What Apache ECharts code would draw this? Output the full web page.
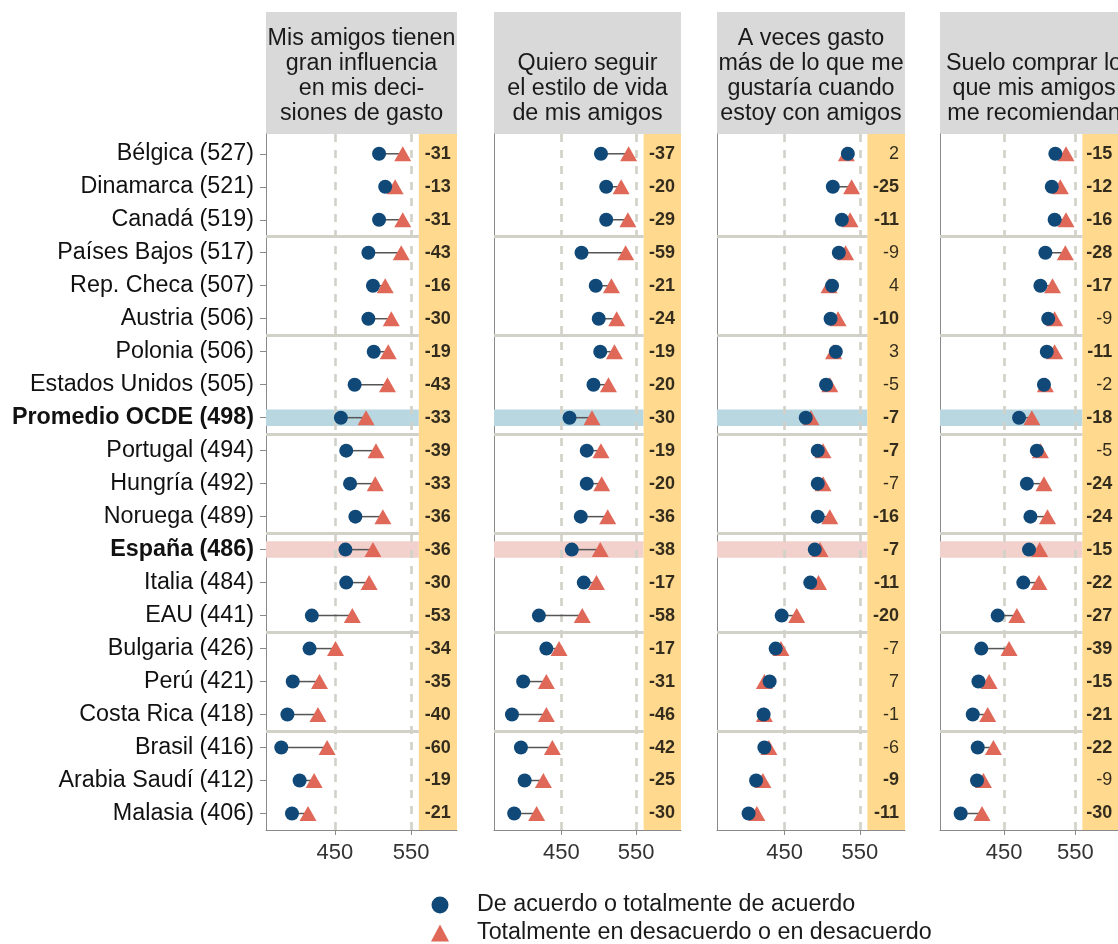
<!DOCTYPE html>
<html><head><meta charset="utf-8">
<script src="https://cdn.jsdelivr.net/npm/echarts@6/dist/echarts.min.js"></script>
<style>html,body{margin:0;padding:0;background:#fff}#c{width:1118px;height:944px}</style>
</head><body><div id="c"></div>
<script>
const countries = ['Bélgica (527)', 'Dinamarca (521)', 'Canadá (519)', 'Países Bajos (517)', 'Rep. Checa (507)', 'Austria (506)', 'Polonia (506)', 'Estados Unidos (505)', 'Promedio OCDE (498)', 'Portugal (494)', 'Hungría (492)', 'Noruega (489)', 'España (486)', 'Italia (484)', 'EAU (441)', 'Bulgaria (426)', 'Perú (421)', 'Costa Rica (418)', 'Brasil (416)', 'Arabia Saudí (412)', 'Malasia (406)'];
const boldCountries = ['Promedio OCDE (498)', 'España (486)'];
const oecdRow = 'Promedio OCDE (498)';
const spainRow = 'España (486)';
const groupBreaks = [3.5, 6.5, 9.5, 12.5, 15.5, 18.5];
const xTicks = [450, 550];
const seriesNames = ['De acuerdo o totalmente de acuerdo', 'Totalmente en desacuerdo o en desacuerdo'];

const titles = [
  'Mis amigos tienen\ngran influencia\nen mis deci-\nsiones de gasto',
  'Quiero seguir\nel estilo de vida\nde mis amigos',
  'A veces gasto\nmás de lo que me\ngustaría cuando\nestoy con amigos',
  'Suelo comprar lo\nque mis amigos\nme recomiendan'
];

const agree1 = [508,516,508,494,500,494,501,476,458,465,470,477,464,465,420,417,395,388,380,404,394];
const disagree1 = [539,529,539,537,516,524,520,519,491,504,503,513,500,495,473,451,430,428,440,423,415];
const diff1 = [-31,-13,-31,-43,-16,-30,-19,-43,-33,-39,-33,-36,-36,-30,-53,-34,-35,-40,-60,-19,-21];
const sig1 = [1,1,1,1,1,1,1,1,1,1,1,1,1,1,1,1,1,1,1,1,1];

const agree2 = [503,510,510,477,496,500,502,493,461,484,484,476,464,480,420,430,399,384,396,401,387];
const disagree2 = [540,530,539,536,517,524,521,513,491,503,504,512,502,497,478,447,430,430,438,426,417];
const diff2 = [-37,-20,-29,-59,-21,-24,-19,-20,-30,-19,-20,-36,-38,-17,-58,-17,-31,-46,-42,-25,-30];
const sig2 = [1,1,1,1,1,1,1,1,1,1,1,1,1,1,1,1,1,1,1,1,1];

const agree3 = [534,514,526,522,513,511,518,505,478,494,494,494,490,484,446,438,430,422,423,412,402];
const disagree3 = [532,539,537,531,509,521,515,510,485,501,501,510,497,495,466,445,423,423,429,421,413];
const diff3 = [2,-25,-11,-9,4,-10,3,-5,-7,-7,-7,-16,-7,-11,-20,-7,7,-1,-6,-9,-11];
const sig3 = [0,1,1,0,0,1,0,0,1,1,0,1,1,1,1,0,0,0,0,1,1];

const agree4 = [522,517,521,508,501,512,510,506,471,496,482,487,485,477,441,418,414,406,413,412,389];
const disagree4 = [537,529,537,536,518,521,521,508,489,501,506,511,500,499,468,457,429,427,435,421,419];
const diff4 = [-15,-12,-16,-28,-17,-9,-11,-2,-18,-5,-24,-24,-15,-22,-27,-39,-15,-21,-22,-9,-30];
const sig4 = [1,1,1,1,1,0,1,0,1,0,1,1,1,1,1,1,1,1,1,0,1];

const panels = [
  {agree: agree1, disagree: disagree1, diff: diff1, sig: sig1},
  {agree: agree2, disagree: disagree2, diff: diff2, sig: sig2},
  {agree: agree3, disagree: disagree3, diff: diff3, sig: sig3},
  {agree: agree4, disagree: disagree4, diff: diff4, sig: sig4}
];

// layout
const lefts = [266, 494, 717, 940];
const widths = [191, 187, 188, 188];
const gridTop = 134, gridHeight = 696;
const xMin = 360, plotMax = 560, xMax = 610, labelX = 602;
const yMin = 0.4, yMax = 21.5;

const FONT = '"Liberation Sans", Arial, Helvetica, sans-serif';
const C_AGREE = '#104978', C_DIS = '#e06859';
const C_GUIDE = '#d1d1c8', C_AXIS = '#8a8a8a';

const rows = countries.map((c, i) => i + 1);

const grids = [], xAxes = [], yAxes = [], series = [], graphics = [];

panels.forEach((p, k) => {
  grids.push({left: lefts[k], top: gridTop, width: widths[k], height: gridHeight, containLabel: false});
  xAxes.push({
    type: 'value', gridIndex: k, min: xMin, max: xMax,
    axisLine: {show: true, lineStyle: {color: C_AXIS, width: 1}},
    axisTick: {show: true, customValues: xTicks, length: 5, lineStyle: {color: C_AXIS}},
    axisLabel: {show: true, customValues: xTicks, fontSize: 22, color: '#333', margin: 12, fontFamily: FONT},
    splitLine: {show: false}
  });
  yAxes.push({
    type: 'value', gridIndex: k, min: yMin, max: yMax, inverse: true,
    axisLine: {show: true, lineStyle: {color: C_AXIS, width: 1}},
    axisTick: {show: k === 0, customValues: rows, length: 6, lineStyle: {color: C_AXIS}},
    axisLabel: {
      show: k === 0, customValues: rows, margin: 12, fontFamily: FONT,
      formatter: v => {
        const name = countries[Math.round(v) - 1] || '';
        return boldCountries.includes(name) ? '{b|' + name + '}' : '{n|' + name + '}';
      },
      rich: {
        b: {fontSize: 23.3, fontWeight: 'bold', color: '#111', fontFamily: FONT},
        n: {fontSize: 23.3, color: '#111', fontFamily: FONT}
      }
    },
    splitLine: {show: false}
  });

  const oRow = countries.indexOf(oecdRow) + 1;
  const sRow = countries.indexOf(spainRow) + 1;

  series.push({
    type: 'custom', xAxisIndex: k, yAxisIndex: k, z: 2, silent: true,
    data: countries.map((c, i) => [p.agree[i], p.disagree[i], i + 1]),
    encode: {x: [0, 1], y: 2},
    renderItem: (params, api) => {
      const a = api.coord([api.value(0), api.value(2)]);
      const b = api.coord([api.value(1), api.value(2)]);
      return {type: 'line', shape: {x1: a[0], y1: a[1], x2: b[0], y2: b[1]}, style: {stroke: '#555', lineWidth: 1.5}};
    },
    markArea: {
      silent: true, z: 1,
      data: [
        [{xAxis: xMin, yAxis: oRow - 0.25, itemStyle: {color: '#b8d7e1'}}, {xAxis: plotMax, yAxis: oRow + 0.25}],
        [{xAxis: xMin, yAxis: sRow - 0.25, itemStyle: {color: '#f2d1cd'}}, {xAxis: plotMax, yAxis: sRow + 0.25}],
        [{xAxis: plotMax, itemStyle: {color: '#fed98e'}}, {xAxis: xMax}]
      ]
    },
    markLine: {
      silent: true, z: 1.5, symbol: 'none', animation: false,
      label: {show: false},
      data: [
        ...xTicks.map(t => ({xAxis: t, lineStyle: {color: C_GUIDE, width: 2.6, type: [8, 8]}})),
        ...groupBreaks.map(g => [
          {coord: [xMin, g], lineStyle: {color: C_GUIDE, width: 3, type: 'solid'}},
          {coord: [plotMax, g]}
        ])
      ]
    }
  });

  series.push({
    name: seriesNames[1], type: 'scatter', xAxisIndex: k, yAxisIndex: k, z: 3,
    symbol: 'triangle', symbolSize: [17, 15],
    itemStyle: {color: C_DIS, opacity: 1},
    data: countries.map((c, i) => [p.disagree[i], i + 1])
  });
  series.push({
    name: seriesNames[0], type: 'scatter', xAxisIndex: k, yAxisIndex: k, z: 4,
    symbol: 'circle', symbolSize: 14,
    itemStyle: {color: C_AGREE, opacity: 1},
    data: countries.map((c, i) => [p.agree[i], i + 1])
  });
  series.push({
    type: 'scatter', xAxisIndex: k, yAxisIndex: k, z: 5, silent: true,
    symbolSize: 0.1, itemStyle: {color: 'rgba(0,0,0,0)'},
    data: countries.map((c, i) => [labelX, i + 1, p.diff[i], p.sig[i]]),
    label: {
      show: true, position: 'left', distance: 0,
      formatter: prm => (prm.data[3] ? '{b|' : '{n|') + prm.data[2] + '}',
      rich: {
        b: {fontSize: 18, fontWeight: 'bold', color: '#000', fontFamily: FONT},
        n: {fontSize: 18, color: '#000', fontFamily: FONT}
      }
    }
  });

  graphics.push({
    type: 'rect', shape: {x: lefts[k], y: 12, width: widths[k], height: gridTop - 12},
    style: {fill: '#d9d9d9'}, z: 0, silent: true
  });
  graphics.push({
    type: 'text', x: lefts[k] + widths[k] / 2, y: 126, z: 1, silent: true,
    style: {text: titles[k], fontSize: 23.3, fontFamily: FONT, fill: '#1a1a1a',
      align: 'center', verticalAlign: 'bottom', lineHeight: 25}
  });
});

const chart = echarts.init(document.getElementById('c'), null, {renderer: 'canvas'});
chart.setOption({
  animation: false,
  backgroundColor: '#ffffff',
  textStyle: {fontFamily: FONT},
  grid: grids, xAxis: xAxes, yAxis: yAxes, series: series,
  graphic: graphics,
  legend: {
    orient: 'vertical', left: 426, top: 888, height: 120, itemWidth: 18, itemHeight: 17, itemGap: 4,
    selectedMode: false,
    textStyle: {fontSize: 23.3, color: '#1a1a1a', lineHeight: 24, fontFamily: FONT, padding: [0, 0, 0, 23]},
    data: [{name: seriesNames[0], icon: 'circle'}, {name: seriesNames[1], icon: 'triangle'}]
  }
});
</script></body></html>
